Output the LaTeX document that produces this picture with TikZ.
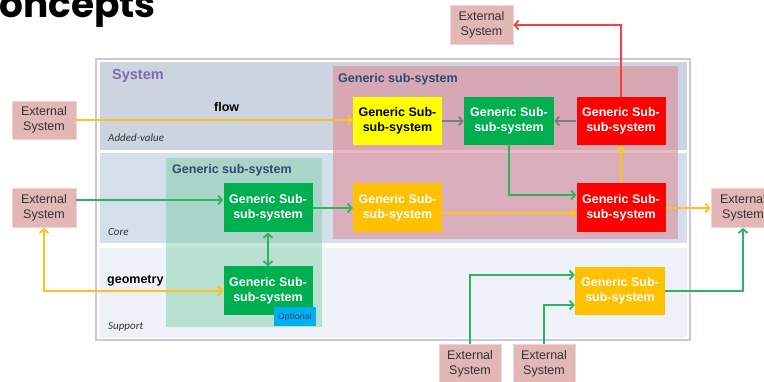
\documentclass[tikz,border=0pt]{standalone}
\usepackage{fontspec}
\setmainfont{Liberation Sans}
\newfontfamily\carlito{Carlito}
\newfontfamily\titlefont{Poppins}
\usetikzlibrary{arrows.meta,calc}
\definecolor{outerb}{HTML}{CFC3DD}
\definecolor{bandA}{HTML}{CBD4E0}
\definecolor{bandB}{HTML}{D5DFEC}
\definecolor{bandC}{HTML}{EEF2F8}
\definecolor{pinkbase}{RGB}{220,140,151}
\definecolor{greenbase}{RGB}{104,198,148}
\definecolor{extpink}{HTML}{E4B7B7}
\definecolor{extborder}{HTML}{F0D4D4}
\definecolor{exttext}{HTML}{333333}
\definecolor{sysblue}{HTML}{2B4A74}
\definecolor{syspurple}{HTML}{8468B0}
\definecolor{cyel}{HTML}{FFFF00}
\definecolor{cgreen}{HTML}{00B050}
\definecolor{cred}{HTML}{FF0000}
\definecolor{corange}{HTML}{FFC000}
\definecolor{copt}{HTML}{00B0F0}
\definecolor{lorange}{HTML}{FFC21A}
\definecolor{lgreen}{HTML}{2DB55D}
\definecolor{lgray}{HTML}{7F7F7F}
\definecolor{lred}{HTML}{FF3B3B}
\begin{document}
\begin{tikzpicture}[x=1pt,y=-1pt,
  sss/.style={minimum width=89pt, minimum height=48pt, inner sep=0pt, align=center,
    font=\fontsize{12.5}{15.5}\selectfont\bfseries, text=white},
  ext/.style={fill=extpink, draw=extborder, line width=0.8pt, minimum width=63pt,
    minimum height=38pt, inner sep=0pt, align=center,
    font=\fontsize{12.5}{15.5}\selectfont, text=exttext},
  lab/.style={anchor=base west, inner sep=0pt},
  arr/.style={line width=1.8pt, -{Straight Barb[length=4pt,width=9pt]}},
  darr/.style={line width=1.8pt, {Straight Barb[length=4pt,width=9pt]}-{Straight Barb[length=4pt,width=9pt]}}
]
\useasboundingbox (0,0) rectangle (764,382);
% title
\node[lab, font=\titlefont\bfseries\fontsize{37.5}{38}\selectfont] (title) at (-1,18) {oncepts};
% system frame and bands
\fill[white] (96,59) rectangle (690,340);
\draw[outerb, line width=1.2pt] (96,59) rectangle (690,340);
\fill[bandA] (100,62) rectangle (687,150);
\fill[bandB] (100,153) rectangle (687,243);
\fill[bandC] (100,248) rectangle (687,338);
% sub-systems
\fill[pinkbase, opacity=0.6] (333,66) rectangle (678,239);
\fill[greenbase, opacity=0.4] (166,158) rectangle (322,327);
% labels
\node[lab, font=\fontsize{14.5}{17}\selectfont\bfseries, text=syspurple] (lsys) at (112,80) {System};
\node[lab, font=\fontsize{12.5}{15}\selectfont\bfseries, text=sysblue] (lsub1) at (338,83) {Generic sub-system};
\node[lab, font=\fontsize{12.5}{15}\selectfont\bfseries, text=sysblue] (lsub2) at (172,174) {Generic sub-system};
\node[lab, font=\fontsize{12.5}{15}\selectfont\bfseries] (lflow) at (214,112) {flow};
\node[lab, font=\fontsize{12.5}{15}\selectfont\bfseries] (lgeo) at (107,284) {geometry};
\node[lab, font=\carlito\itshape\fontsize{11}{13}\selectfont, text=exttext] (ladd) at (108,142) {Added-value};
\node[lab, font=\carlito\itshape\fontsize{11}{13}\selectfont, text=exttext] (lcore) at (108,236) {Core};
\node[lab, font=\carlito\itshape\fontsize{11}{13}\selectfont, text=exttext] (lsupp) at (108,330) {Support};
% sub-sub-systems
\node[sss, fill=cyel, text=black] (yel) at (397.5,121) {Generic Sub-\\sub-system};
\node[sss, fill=cgreen, minimum width=90pt] (gtop) at (509,121) {Generic Sub-\\sub-system};
\node[sss, fill=cred] (rtop) at (621,121) {Generic Sub-\\sub-system};
\node[sss, fill=cgreen, minimum height=49pt] (gcore) at (268,208) {Generic Sub-\\sub-system};
\node[sss, fill=corange, minimum height=49pt] (ocore) at (397.5,208) {Generic Sub-\\sub-system};
\node[sss, fill=cred, minimum height=49pt] (rcore) at (621,208) {Generic Sub-\\sub-system};
\node[sss, fill=cgreen, minimum height=49pt] (gsup) at (268,291) {Generic Sub-\\sub-system};
\node[sss, fill=corange, minimum width=90pt] (osup) at (620,291) {Generic Sub-\\sub-system};
\node[fill=copt, minimum width=42pt, minimum height=19pt, inner sep=0pt,
  font=\carlito\fontsize{9.5}{11}\selectfont, text=sysblue] (opt) at (295,316.5) {Optional};
% external systems
\node[ext, minimum width=64pt] (eL1) at (44,120) {External\\System};
\node[ext, minimum width=64pt, minimum height=39pt] (eL2) at (44,208) {External\\System};
\node[ext, minimum height=39pt] (eTop) at (481.5,25) {External\\System};
\node[ext, minimum width=64pt, minimum height=39pt] (eR) at (743,208) {External\\System};
\node[ext, minimum width=62pt, minimum height=40pt] (eB1) at (470,364) {External\\System};
\node[ext, minimum width=62pt, minimum height=40pt] (eB2) at (544,364) {External\\System};
% connectors
\draw[arr, lorange] (eL1.east) -- (eL1.east -| yel.west);
\draw[arr, lgray] (yel.east) -- (gtop.west);
\draw[arr, lgray] (rtop.west) -- (gtop.east);
\draw[arr, lred] (rtop.north) |- (eTop.east);
\draw[arr, lgreen] (gtop.south) |- ([yshift=13pt]rcore.west);
\draw[arr, lorange] (rcore.north) -- (rtop.south);
\draw[arr, lorange] ([yshift=-5pt]ocore.east) -- ([yshift=-5pt]rcore.west);
\draw[arr, lorange] (rcore.east) -- (eR.west);
\draw[arr, lgreen] ([yshift=8pt]eL2.east) -- ([yshift=8pt]gcore.west);
\draw[arr, lgreen] (gcore.east) -- (ocore.west);
\draw[darr, lgreen] (gcore.south) -- (gsup.north);
\draw[darr, lorange] (eL2.south) |- (gsup.west);
\draw[arr, lgreen] (eB1.north) |- ([yshift=16pt]osup.west);
\draw[arr, lgreen] (eB2.north) |- ([yshift=-14pt]osup.west);
\draw[arr, lgreen] (osup.east) -| (eR.south);
\end{tikzpicture}
\end{document}
